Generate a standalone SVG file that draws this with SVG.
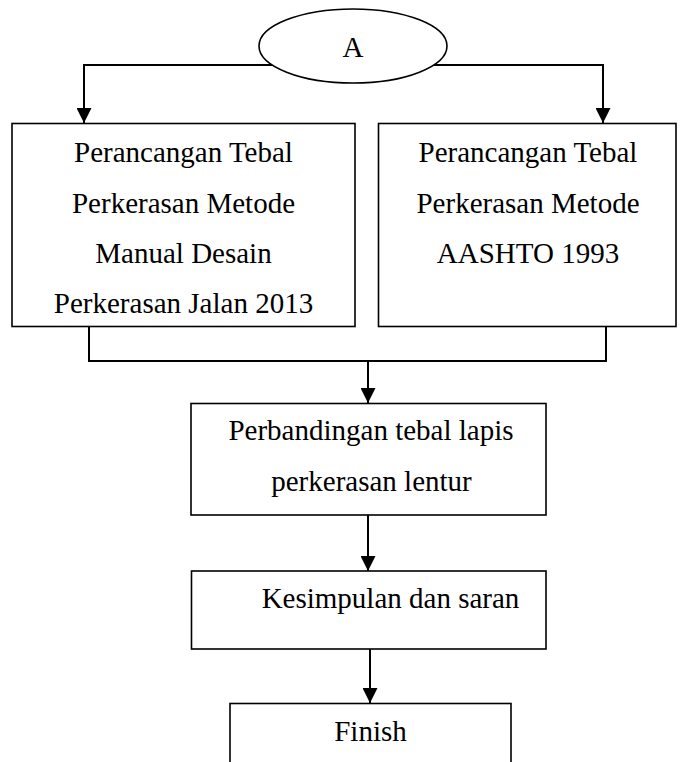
<svg xmlns="http://www.w3.org/2000/svg" width="680" height="762" viewBox="0 0 680 762">
<style>
.box{fill:#fff;stroke:#000;stroke-width:1.6}
.con{fill:none;stroke:#000;stroke-width:2}
.t{font-family:"Liberation Serif","Times New Roman",serif;font-size:29px;fill:#000;text-anchor:middle}
</style>
<defs>
<marker id="arr" markerUnits="userSpaceOnUse" markerWidth="15" markerHeight="15" refX="15" refY="7.5" orient="auto">
<path d="M0,0 L15,7.5 L0,15 z" fill="#000"/>
</marker>
</defs>
<rect width="680" height="762" fill="#fff"/>
<g id="connectors">
<path class="con" d="M272,65 H84 V123" marker-end="url(#arr)"/>
<path class="con" d="M434,65 H603 V123" marker-end="url(#arr)"/>
<path class="con" d="M89,327 V361 H606 V327"/>
<path class="con" d="M368,361 V403" marker-end="url(#arr)"/>
<path class="con" d="M368,515 V571" marker-end="url(#arr)"/>
<path class="con" d="M370,649 V703" marker-end="url(#arr)"/>
</g>
<g id="nodeA">
<ellipse class="box" cx="353" cy="46" rx="94" ry="37"/>
<text class="t" x="353" y="57">A</text>
</g>
<g id="nodeMDP">
<rect class="box" x="12" y="123.5" width="343" height="203"/>
<text class="t" x="183.5" y="162">Perancangan Tebal</text>
<text class="t" x="183.5" y="212.5">Perkerasan Metode</text>
<text class="t" x="183.5" y="263">Manual Desain</text>
<text class="t" x="183.5" y="313">Perkerasan Jalan 2013</text>
</g>
<g id="nodeAASHTO">
<rect class="box" x="378.5" y="123.5" width="297.5" height="203"/>
<text class="t" x="528" y="162">Perancangan Tebal</text>
<text class="t" x="528" y="212.5">Perkerasan Metode</text>
<text class="t" x="528" y="263">AASHTO 1993</text>
</g>
<g id="nodeCompare">
<rect class="box" x="191" y="403.5" width="355" height="111.5"/>
<text class="t" x="371" y="440">Perbandingan tebal lapis</text>
<text class="t" x="371.5" y="490.5">perkerasan lentur</text>
</g>
<g id="nodeConclusion">
<rect class="box" x="191.5" y="571" width="354.5" height="78"/>
<text class="t" x="390.5" y="607.5">Kesimpulan dan saran</text>
</g>
<g id="nodeFinish">
<rect class="box" x="230" y="703.5" width="281" height="70"/>
<text class="t" x="370.5" y="741">Finish</text>
</g>
</svg>
